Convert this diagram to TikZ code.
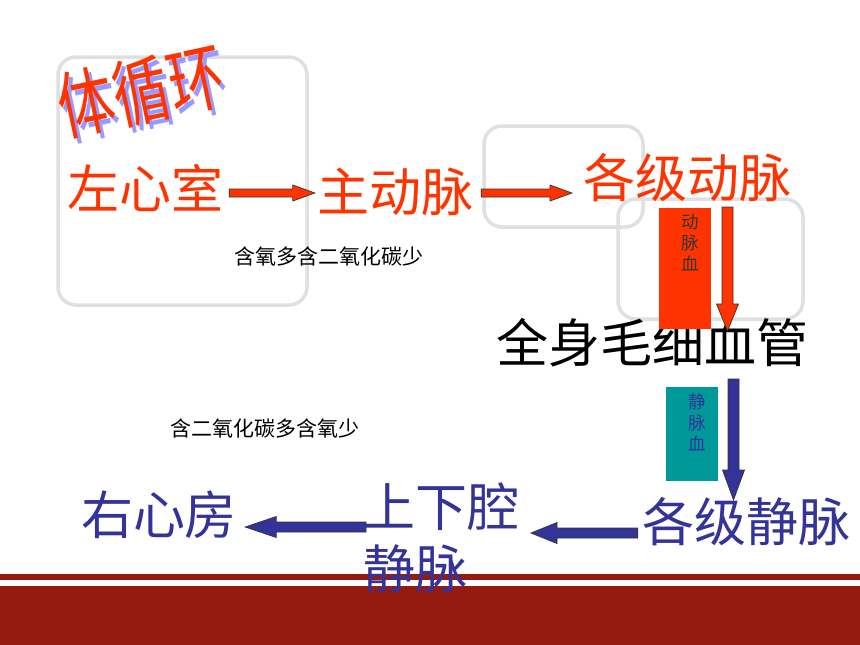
\documentclass[tikz,border=0pt]{standalone}
\usepackage{fontspec}
\setmainfont{Noto Sans CJK SC}
\usetikzlibrary{calc}
\definecolor{myred}{HTML}{FF3300}
\definecolor{myblue}{HTML}{333399}
\definecolor{myteal}{HTML}{009999}
\definecolor{framegray}{HTML}{E0E0E0}
\definecolor{bandred}{HTML}{951B10}
\definecolor{shadowblue}{HTML}{9999FF}
\definecolor{edge}{HTML}{333333}
% right/left horizontal block arrow: from, to, half shaft, half head, head length (signed)
\newcommand\hblock[6][]{\filldraw[#1] ($(#2)+(0,{-(#4)})$) -- ($(#3)+({-(#6)},{-(#4)})$) -- ($(#3)+({-(#6)},{-(#5)})$) -- (#3) -- ($(#3)+({-(#6)},#5)$) -- ($(#3)+({-(#6)},#4)$) -- ($(#2)+(0,#4)$) -- cycle;}
% downward block arrow
\newcommand\vblock[6][]{\filldraw[#1] ($(#2)+({-(#4)},0)$) -- ($(#3)+({-(#4)},{-(#6)})$) -- ($(#3)+({-(#5)},{-(#6)})$) -- (#3) -- ($(#3)+(#5,{-(#6)})$) -- ($(#3)+(#4,{-(#6)})$) -- ($(#2)+(#4,0)$) -- cycle;}
\tikzset{
  big/.style={font=\fontsize{52}{62}\selectfont, inner sep=0pt},
  redt/.style={big, text=myred},
  bluet/.style={big, text=myblue},
  frame/.style={draw=framegray, line width=3.5pt, rounded corners=18pt},
  small/.style={font=\fontsize{21}{23}\selectfont, inner sep=0pt, text=black},
  vlabel/.style={font=\fontsize{17.5}{21}\selectfont, align=center, inner sep=0pt, anchor=north},
  titletext/.style={font=\fontsize{56}{60}\selectfont, rotate=12, inner sep=0pt, yscale=1.32},
  redarrow/.style={fill=myred, draw=edge, line width=0.7pt},
  bluearrow/.style={fill=myblue, draw=edge, line width=0.7pt},
}
\begin{document}
\begin{tikzpicture}[x=1pt, y=-1pt]
\useasboundingbox (0,0) rectangle (860,645);
\fill[white] (0,0) rectangle (860,645);
% bottom bands
\fill[bandred] (0,574) rectangle (860,580);
\fill[bandred] (0,586) rectangle (860,645);
% frames
\draw[frame] (58,57) rectangle (307,305);
\draw[frame] (484,126) rectangle (643,227);
\draw[frame] (618,199) rectangle (803,319);
% title with shadow
\node[titletext, text=shadowblue] (shadow) at (145,96) {体循环};
\node[titletext, text=myred] (title) at (141,91) {体循环};
% main texts
\node[redt] (lv) at (145,188) {左心室};
\node[redt] (aorta) at (395,192) {主动脉};
\node[redt] (arteries) at (687,178) {各级动脉};
\node[big, text=black] (cap) at (652,343) {全身毛细血管};
\node[bluet] (veins) at (746,522) {各级静脉};
\node[bluet, align=left, anchor=north west] (vc) at (363,483) {上下腔\\静脉};
\node[bluet] (ra) at (159,515) {右心房};
% small texts
\node[small] (t1) at (329,256) {含氧多含二氧化碳少};
\node[small] (t2) at (265,428) {含二氧化碳多含氧少};
% blood boxes
\fill[myred] (659,208) rectangle (711,329);
\node[vlabel, text=edge] (ab) at (690,214) {动\\脉\\血};
\fill[myteal] (666,387) rectangle (718,481);
\node[vlabel, text=myblue] (vb) at (697,394) {静\\脉\\血};
% arrows
\coordinate (a1s) at ($(lv.east)+(6,5)$);
\coordinate (a1e) at ($(aorta.west)+(-2,1)$);
\coordinate (a2s) at ($(aorta.east)+(8,1)$);
\coordinate (a2e) at (572,193);
\coordinate (a3s) at (727.5,207);
\coordinate (a3e) at (727.5,331);
\coordinate (a4s) at (733.5,379);
\coordinate (a4e) at (733.5,500);
\coordinate (a5s) at ($(veins.west)+(-4,11)$);
\coordinate (a5e) at (531,533);
\coordinate (a6s) at (366,527);
\coordinate (a6e) at ($(ra.east)+(8,12)$);
\hblock[redarrow]{a1s}{a1e}{4}{8}{22}
\hblock[redarrow]{a2s}{a2e}{4}{8}{22}
\vblock[redarrow]{a3s}{a3e}{5.5}{11}{27}
\vblock[bluearrow]{a4s}{a4e}{5.5}{11}{30}
\hblock[bluearrow]{a5s}{a5e}{5}{10.5}{-26}
\hblock[bluearrow]{a6s}{a6e}{5}{10.5}{-31}
\end{tikzpicture}
\end{document}
